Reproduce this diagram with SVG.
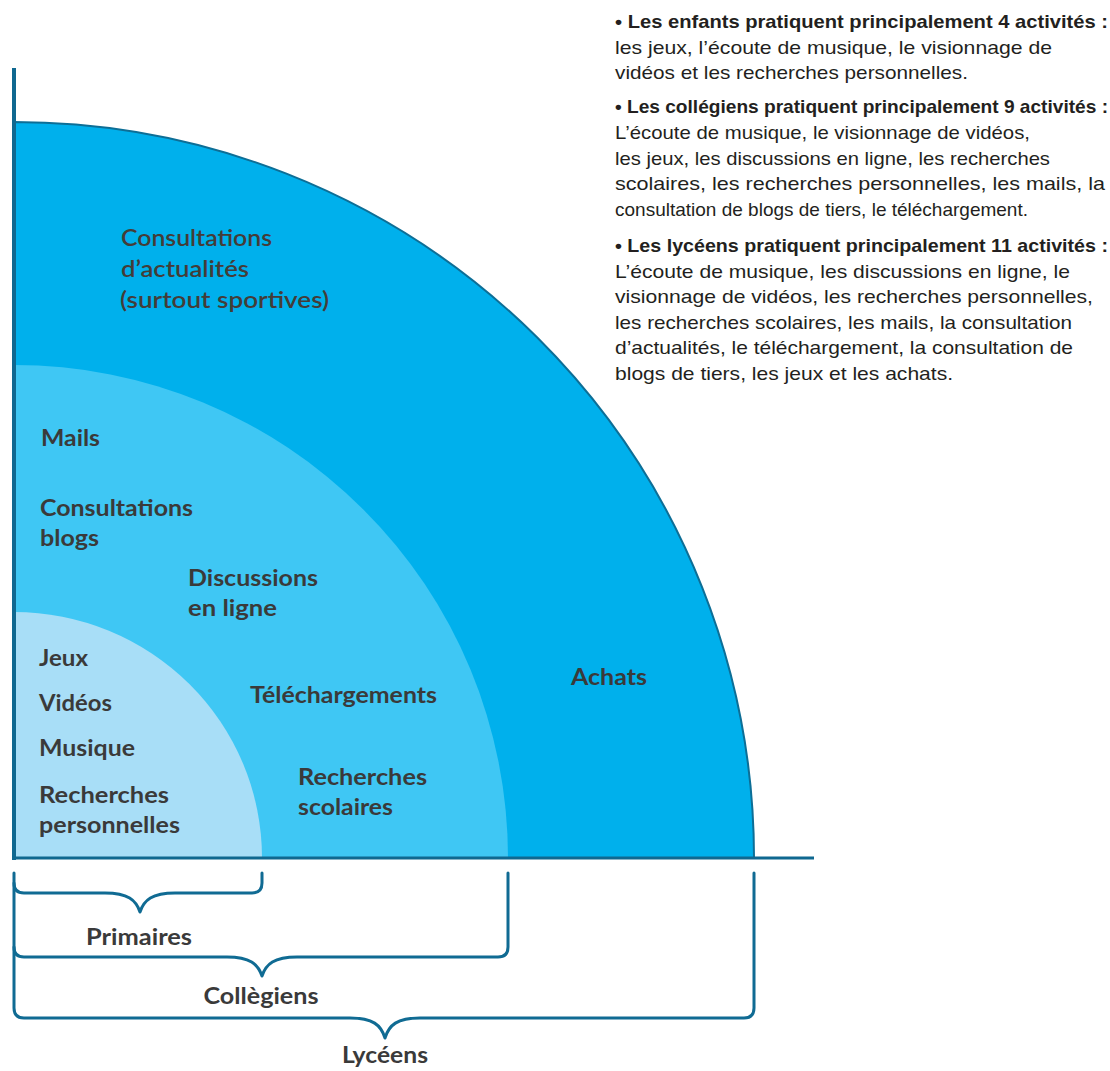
<svg xmlns="http://www.w3.org/2000/svg" width="1110" height="1071" viewBox="0 0 1110 1071">
  <style>
    .lbl { font-family: Lato, "Liberation Sans", sans-serif; font-weight: bold; font-size: 22px; fill: #3a3a3a; }
    .lbl2 { font-family: Lato, "Liberation Sans", sans-serif; font-weight: 600; font-size: 23px; fill: #443c38; }
    .side { font-family: "Liberation Sans Narrow", "Liberation Sans", sans-serif; font-size: 19px; fill: #231f20; }
    .sideb { font-weight: bold; }
    .br { fill: none; stroke: #106b93; stroke-width: 3; stroke-linecap: round; stroke-linejoin: round; }
    .axis { stroke: #0f6890; fill: none; }
  </style>
  <rect width="1110" height="1071" fill="#ffffff"/>

  <g id="lyceens-zone">
    <path d="M14,858 L14,122 A740,736 0 0 1 754,858 Z" fill="#00b0ec" stroke="#0d6e96" stroke-width="2"/>
  </g>
  <g id="collegiens-zone">
    <path d="M14,858 L14,365 A494,493 0 0 1 508,858 Z" fill="#3fc7f4"/>
  </g>
  <g id="primaires-zone">
    <path d="M14,858 L14,612 A248,246 0 0 1 262,858 Z" fill="#a8def7"/>
  </g>

  <g id="axes">
    <line class="axis" x1="14" y1="68" x2="14" y2="860" stroke-width="4"/>
    <line class="axis" x1="12" y1="858" x2="814" y2="858" stroke-width="3"/>
  </g>

  <g id="labels-lyceens">
    <text class="lbl2" x="121" y="246" textLength="151" lengthAdjust="spacingAndGlyphs">Consultations</text>
    <text class="lbl2" x="121" y="277" textLength="128" lengthAdjust="spacingAndGlyphs">d’actualités</text>
    <text class="lbl2" x="120" y="308" textLength="209" lengthAdjust="spacingAndGlyphs">(surtout sportives)</text>
    <text class="lbl" x="571" y="685" textLength="76" lengthAdjust="spacingAndGlyphs">Achats</text>
  </g>
  <g id="labels-collegiens">
    <text class="lbl" x="41" y="446" textLength="59" lengthAdjust="spacingAndGlyphs">Mails</text>
    <text class="lbl" x="40" y="516" textLength="153" lengthAdjust="spacingAndGlyphs">Consultations</text>
    <text class="lbl" x="40" y="546" textLength="59" lengthAdjust="spacingAndGlyphs">blogs</text>
    <text class="lbl" x="188" y="586" textLength="130" lengthAdjust="spacingAndGlyphs">Discussions</text>
    <text class="lbl" x="188" y="616" textLength="89" lengthAdjust="spacingAndGlyphs">en ligne</text>
    <text class="lbl" x="250" y="703" textLength="187" lengthAdjust="spacingAndGlyphs">Téléchargements</text>
    <text class="lbl" x="298" y="785" textLength="129" lengthAdjust="spacingAndGlyphs">Recherches</text>
    <text class="lbl" x="298" y="815" textLength="95" lengthAdjust="spacingAndGlyphs">scolaires</text>
  </g>
  <g id="labels-primaires">
    <text class="lbl" x="39" y="666" textLength="49" lengthAdjust="spacingAndGlyphs">Jeux</text>
    <text class="lbl" x="39" y="711" textLength="73" lengthAdjust="spacingAndGlyphs">Vidéos</text>
    <text class="lbl" x="39" y="756" textLength="96" lengthAdjust="spacingAndGlyphs">Musique</text>
    <text class="lbl" x="39" y="803" textLength="130" lengthAdjust="spacingAndGlyphs">Recherches</text>
    <text class="lbl" x="39" y="833" textLength="141" lengthAdjust="spacingAndGlyphs">personnelles</text>
  </g>

  <g id="connectors">
    <path class="br" d="M14,883 Q14,893 24,893 L105,893 C128,893 136,900 140,912 C144,900 152,893 175,893 L252,893 Q262,893 262,883 L262,873"/>
    <path class="br" d="M14,947 Q14,957 24,957 L227,957 C250,957 258,964 262,976 C266,964 274,957 297,957 L498,957 Q508,957 508,947 L508,873"/>
    <path class="br" d="M14,873 L14,1008 Q14,1018 24,1018 L350,1018 C373,1018 381,1025 385,1038 C389,1025 397,1018 420,1018 L744,1018 Q754,1018 754,1008 L754,873"/>
  </g>

  <g id="bracket-labels">
    <text class="lbl" x="139" y="945" text-anchor="middle" textLength="106" lengthAdjust="spacingAndGlyphs">Primaires</text>
    <text class="lbl" x="261" y="1004" text-anchor="middle" textLength="115" lengthAdjust="spacingAndGlyphs">Collègiens</text>
    <text class="lbl" x="385" y="1063" text-anchor="middle" textLength="86" lengthAdjust="spacingAndGlyphs">Lycéens</text>
  </g>

  <g id="legend">
    <text class="side sideb" x="615" y="28" textLength="493" lengthAdjust="spacingAndGlyphs">• Les enfants pratiquent principalement 4 activités :</text>
    <text class="side" x="615" y="53.5" textLength="437" lengthAdjust="spacingAndGlyphs">les jeux, l’écoute de musique, le visionnage de</text>
    <text class="side" x="615" y="79" textLength="353" lengthAdjust="spacingAndGlyphs">vidéos et les recherches personnelles.</text>

    <text class="side sideb" x="615" y="113" textLength="493" lengthAdjust="spacingAndGlyphs">• Les collégiens pratiquent principalement 9 activités :</text>
    <text class="side" x="615" y="139" textLength="415" lengthAdjust="spacingAndGlyphs">L’écoute de musique, le visionnage de vidéos,</text>
    <text class="side" x="615" y="164.5" textLength="435" lengthAdjust="spacingAndGlyphs">les jeux, les discussions en ligne, les recherches</text>
    <text class="side" x="615" y="190" textLength="490" lengthAdjust="spacingAndGlyphs">scolaires, les recherches personnelles, les mails, la</text>
    <text class="side" x="615" y="215.5" textLength="413" lengthAdjust="spacingAndGlyphs">consultation de blogs de tiers, le téléchargement.</text>

    <text class="side sideb" x="615" y="252" textLength="493" lengthAdjust="spacingAndGlyphs">• Les lycéens pratiquent principalement 11 activités :</text>
    <text class="side" x="615" y="277.5" textLength="455" lengthAdjust="spacingAndGlyphs">L’écoute de musique, les discussions en ligne, le</text>
    <text class="side" x="615" y="303" textLength="478" lengthAdjust="spacingAndGlyphs">visionnage de vidéos, les recherches personnelles,</text>
    <text class="side" x="615" y="328.5" textLength="457" lengthAdjust="spacingAndGlyphs">les recherches scolaires, les mails, la consultation</text>
    <text class="side" x="615" y="354" textLength="458" lengthAdjust="spacingAndGlyphs">d’actualités, le téléchargement, la consultation de</text>
    <text class="side" x="615" y="379.5" textLength="338" lengthAdjust="spacingAndGlyphs">blogs de tiers, les jeux et les achats.</text>
  </g>
</svg>
